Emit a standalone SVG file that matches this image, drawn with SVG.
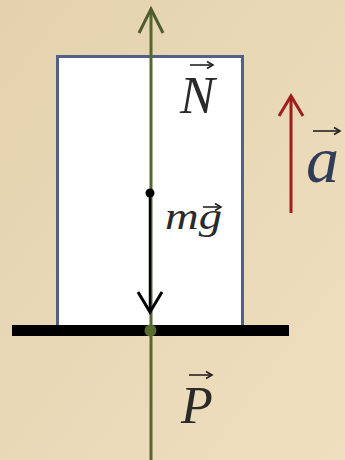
<svg xmlns="http://www.w3.org/2000/svg" width="345" height="460" viewBox="0 0 345 460">
<defs>
<linearGradient id="bg" x1="0" y1="0" x2="1" y2="1">
<stop offset="0" stop-color="#e4d2ae"/>
<stop offset="1" stop-color="#efdfbf"/>
</linearGradient>
<marker id="hg" markerUnits="userSpaceOnUse" viewBox="-27 -15 30 30" refX="0" refY="0" markerWidth="30" markerHeight="30" orient="auto" overflow="visible">
<path d="M-24,-12 L0,0 L-24,12" fill="none" stroke="#4d5c2c" stroke-width="3"/>
</marker>
<marker id="hk" markerUnits="userSpaceOnUse" viewBox="-27 -15 30 30" refX="0" refY="0" markerWidth="30" markerHeight="30" orient="auto" overflow="visible">
<path d="M-20,-12 L0,0 L-20,12" fill="none" stroke="#000" stroke-width="3"/>
</marker>
<marker id="hr" markerUnits="userSpaceOnUse" viewBox="-27 -15 30 30" refX="0" refY="0" markerWidth="30" markerHeight="30" orient="auto" overflow="visible">
<path d="M-20,-12 L0,0 L-20,12" fill="none" stroke="#a01d1d" stroke-width="3"/>
</marker>
<marker id="hs" markerUnits="userSpaceOnUse" viewBox="-8 -5 10 10" refX="0" refY="0" markerWidth="10" markerHeight="10" orient="auto" overflow="visible">
<path d="M-6,-3.5 L0,0 L-6,3.5" fill="none" stroke="#222" stroke-width="1.6"/>
</marker>
</defs>
<style>
.lbl{font-family:"Liberation Serif","DejaVu Serif",serif;font-style:italic;fill:#2a2a2a}
.vec{stroke:#222;stroke-width:1.6;fill:none;marker-end:url(#hs)}
</style>
<rect x="0" y="0" width="345" height="460" fill="url(#bg)"/>
<g id="body">
<rect x="57.5" y="56.5" width="185" height="270" fill="#fff" stroke="#55608a" stroke-width="3"/>
</g>
<g id="ground">
<rect x="12" y="325" width="277" height="11" fill="#000"/>
</g>
<g id="connectors">
<line x1="151" y1="460" x2="151" y2="9" stroke="#55682c" stroke-width="3" marker-end="url(#hg)"/>
<line x1="150" y1="193" x2="150" y2="312" stroke="#000" stroke-width="2.5" marker-end="url(#hk)"/>
<line x1="291" y1="213" x2="291" y2="96" stroke="#a01d1d" stroke-width="3" marker-end="url(#hr)"/>
</g>
<g id="center-of-mass">
<circle cx="150" cy="193" r="4.5" fill="#000"/>
</g>
<g id="contact-point">
<circle cx="150.5" cy="330.5" r="6" fill="#5a6b2e"/>
</g>
<g id="label-N">
<text class="lbl" x="180" y="113" font-size="52">N</text>
<line class="vec" x1="190" y1="65" x2="213" y2="65"/>
</g>
<g id="label-mg">
<text class="lbl" x="165" y="229" font-size="38" textLength="57" lengthAdjust="spacingAndGlyphs">mg</text>
<line class="vec" x1="203" y1="207" x2="221" y2="207"/>
</g>
<g id="label-P">
<text class="lbl" x="181" y="423" font-size="52">P</text>
<line class="vec" x1="189" y1="375" x2="212" y2="375"/>
</g>
<g id="label-a">
<text class="lbl" x="306" y="182" font-size="66" style="fill:#313d58">a</text>
<line class="vec" x1="313" y1="131" x2="340" y2="131"/>
</g>
</svg>
